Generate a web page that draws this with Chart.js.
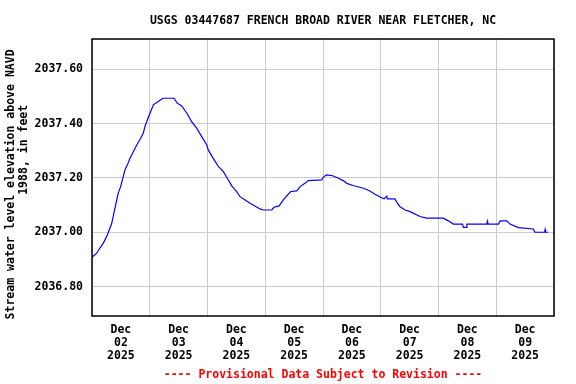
<!DOCTYPE html>
<html lang="en-US">

<head>
  <meta charset="utf-8">
  <title>USGS 03447687 French Broad River near Fletcher, NC</title>
  <script src="https://cdn.jsdelivr.net/npm/chart.js@4.4.1/dist/chart.umd.min.js"></script>
  <style>
    html, body { margin: 0; padding: 0; background: #fff; }
    #holder { width: 576px; height: 384px; }
  </style>
</head>

<body>
  <div id="holder">
    <canvas id="chart" width="576" height="384"></canvas>
  </div>
  <script>
    // hours since Dec 02 2025 00:00, and gage height (ft, NAVD 1988)
    const hours = [
      0, 1.95, 3.3, 4.7, 6.1, 7.2, 8.2, 9.1, 10.0, 10.9, 11.9, 12.8, 13.7, 14.7, 15.8, 17.2, 18.6, 20.0, 21.3, 22.0,
      23.0, 24.1, 25.5, 27.5, 29.4, 34.1, 35.4, 37.3, 39.4, 41.4, 43.5, 45.6, 47.7, 48.3, 50.4, 52.5, 54.6, 56.6,
      58.1, 60.1, 61.5, 63.6, 65.7, 67.7, 69.8, 71.2, 74.7, 75.6, 77.8, 79.5, 81.2, 82.6, 85.1, 86.5, 88.5, 89.9,
      95.5, 96.1, 97.5, 100.0, 102.4, 104.4, 105.9, 108.4, 112.8, 115.5, 117.6, 119.7, 121.4, 122.5, 122.8, 125.9,
      126.9, 128.0, 130.1, 132.2, 136.3, 139.1, 146.0, 148.1, 150.2, 154.0, 154.3, 155.5, 155.8, 164.1, 164.3,
      164.5, 168.9, 169.6, 172.4, 173.7, 177.2, 183.4, 184.1, 188.1, 188.3, 188.5, 189.6
    ];
    const levels = [
      2036.908, 2036.923, 2036.942, 2036.960, 2036.984, 2037.009, 2037.033, 2037.070, 2037.107, 2037.144, 2037.168,
      2037.199, 2037.229, 2037.248, 2037.272, 2037.297, 2037.321, 2037.342, 2037.364, 2037.389, 2037.413, 2037.438,
      2037.469, 2037.481, 2037.493, 2037.493, 2037.475, 2037.465, 2037.438, 2037.407, 2037.383, 2037.352, 2037.321,
      2037.303, 2037.272, 2037.242, 2037.223, 2037.193, 2037.171, 2037.150, 2037.131, 2037.119, 2037.107, 2037.097,
      2037.086, 2037.082, 2037.082, 2037.092, 2037.097, 2037.119, 2037.137, 2037.150, 2037.152, 2037.168, 2037.180,
      2037.190, 2037.193, 2037.203, 2037.211, 2037.208, 2037.199, 2037.190, 2037.180, 2037.172, 2037.162, 2037.152,
      2037.140, 2037.130, 2037.123, 2037.133, 2037.123, 2037.123, 2037.107, 2037.094, 2037.082, 2037.076, 2037.058,
      2037.052, 2037.052, 2037.042, 2037.030, 2037.030, 2037.018, 2037.018, 2037.030, 2037.030, 2037.040, 2037.030,
      2037.030, 2037.042, 2037.042, 2037.030, 2037.017, 2037.012, 2037.000, 2037.000, 2037.010, 2037.000, 2037.000
    ];

    const month = 'Dec';
    const year = '2025';
    const days = ['02', '03', '04', '05', '06', '07', '08', '09'];
    const yTicks = [2036.80, 2037.00, 2037.20, 2037.40, 2037.60];

    const FONT = "'DejaVu Sans Mono', 'Liberation Mono', monospace";

    const points = hours.map((h, i) => ({ x: h, y: levels[i] }));

    // plot frame on all four sides
    const frame = {
      id: 'frame',
      afterDraw(chart) {
        const { ctx, chartArea: a } = chart;
        ctx.save();
        ctx.strokeStyle = '#000';
        ctx.lineWidth = 1.5;
        ctx.strokeRect(a.left, a.top, a.right - a.left, a.bottom - a.top);
        ctx.restore();
      }
    };

    new Chart(document.getElementById('chart'), {
      type: 'line',
      data: {
        datasets: [{
          data: points,
          borderColor: '#0000ff',
          borderWidth: 1.2,
          pointRadius: 0,
          tension: 0,
          fill: false
        }]
      },
      options: {
        responsive: false,
        animation: false,
        layout: { padding: { left: 0, right: 22, top: 0, bottom: 0 } },
        plugins: {
          legend: { display: false },
          tooltip: { enabled: false },
          title: {
            display: true,
            fullSize: false,
            text: 'USGS 03447687 FRENCH BROAD RIVER NEAR FLETCHER, NC',
            color: '#000',
            font: { family: FONT, size: 11.5, weight: 'bold', lineHeight: '14px' },
            padding: { top: 14, bottom: 11 }
          },
          subtitle: {
            display: true,
            fullSize: false,
            position: 'bottom',
            text: '---- Provisional Data Subject to Revision ----',
            color: '#ff0000',
            font: { family: FONT, size: 11.5, weight: 'bold', lineHeight: '14px' },
            padding: { top: 5, bottom: 2 }
          }
        },
        scales: {
          x: {
            type: 'linear',
            min: 0,
            max: days.length * 24,
            afterFit(scale) { scale.height = 47; },
            border: { display: false },
            grid: {
              drawTicks: false,
              color: (c) => (c.tick && c.tick.value % 24 === 0) ? '#cccccc' : 'rgba(0,0,0,0)',
              lineWidth: 1
            },
            ticks: {
              stepSize: 12,
              autoSkip: false,
              maxRotation: 0,
              padding: 7.5,
              color: '#000',
              font: { family: FONT, size: 11.5, weight: 'bold', lineHeight: '13px' },
              callback: (v) => {
                if (v % 24 !== 12) return '';
                const d = days[Math.floor(v / 24)];
                return d ? [month, d, year] : '';
              }
            }
          },
          y: {
            min: 2036.692,
            max: 2037.711,
            afterFit(scale) { scale.width = 92; },
            afterBuildTicks(scale) { scale.ticks = yTicks.map(v => ({ value: v })); },
            border: { display: false },
            grid: { drawTicks: false, color: '#cccccc', lineWidth: 1 },
            ticks: {
              includeBounds: false,
              padding: 9,
              color: '#000',
              font: { family: FONT, size: 11.5, weight: 'bold' },
              callback: (v) => Number(v).toFixed(2)
            },
            title: {
              display: true,
              text: ['Stream water level elevation above NAVD  ', '        1988, in feet'],
              color: '#000',
              font: { family: FONT, size: 11.5, weight: 'bold', lineHeight: '13px' },
              padding: { top: 5, bottom: 0 }
            }
          }
        }
      },
      plugins: [frame]
    });
  </script>
</body>

</html>
